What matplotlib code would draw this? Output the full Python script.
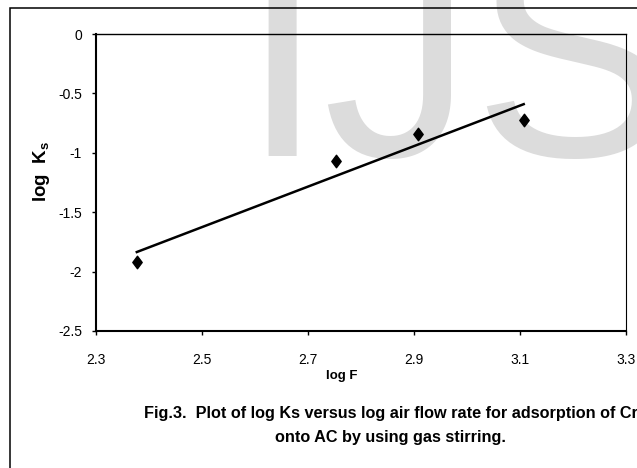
import numpy as np
import matplotlib
matplotlib.use("Agg")
import matplotlib.pyplot as plt
from matplotlib.patches import Rectangle
from matplotlib.path import Path
from matplotlib.ticker import FixedLocator, FuncFormatter

# Measured values: log of air flow rate vs log of mass transfer coefficient
log_F = [2.377, 2.753, 2.908, 3.107]
log_Ks = [-1.92, -1.07, -0.84, -0.72]

x_ticks = [2.3, 2.5, 2.7, 2.9, 3.1, 3.3]
y_ticks = [0, -0.5, -1, -1.5, -2, -2.5]

x_label = "log F"
caption_1 = "Fig.3.  Plot of log Ks versus log air flow rate for adsorption of Cr"
caption_2 = "onto AC by using gas stirring."

FONT = ["Liberation Sans", "DejaVu Sans"]

plt.rcParams["axes.unicode_minus"] = False
plt.rcParams["mathtext.fontset"] = "custom"
plt.rcParams["mathtext.rm"] = "Liberation Sans"
plt.rcParams["mathtext.bf"] = "Liberation Sans:bold"

W, H = 637, 468
fig = plt.figure(figsize=(W / 100, H / 100), dpi=100, facecolor="white")


def fx(px):
    return px / W


def fy(py):
    return 1 - py / H


# Journal watermark behind the chart
fig.text(fx(240), fy(156), "IJS", fontsize=216, family=FONT,
         color="#dcdcdc", ha="left", va="baseline", zorder=-1)

# Outer chart frame (runs off the right and bottom edges)
fig.patches.append(Rectangle((fx(10), -0.3), 2.0, fy(8) + 0.3,
                             transform=fig.transFigure, fill=False,
                             edgecolor="black", linewidth=1.1, zorder=1))

ax = fig.add_axes([fx(96), fy(331), fx(626) - fx(96), fy(34) - fy(331)])
ax.set_facecolor("none")

# Data points
diamond = Path([(-0.75, 0), (0, 1), (0.75, 0), (0, -1), (-0.75, 0)],
               [Path.MOVETO, Path.LINETO, Path.LINETO, Path.LINETO,
                Path.CLOSEPOLY])
ax.plot(log_F, log_Ks, linestyle="none", marker=diamond, markersize=9,
        color="black", zorder=3)

# Linear trend line over the range of the data
slope, intercept = np.polyfit(log_F, log_Ks, 1)
xt = np.array([min(log_F), max(log_F)])
ax.plot(xt, slope * xt + intercept, color="black", linewidth=1.8, zorder=2)

ax.set_xlim(min(x_ticks), max(x_ticks))
ax.set_ylim(min(y_ticks), max(y_ticks))
ax.xaxis.set_major_locator(FixedLocator(x_ticks))
ax.yaxis.set_major_locator(FixedLocator(y_ticks))
fmt = FuncFormatter(lambda v, pos: "%g" % round(v, 2))
ax.xaxis.set_major_formatter(fmt)
ax.yaxis.set_major_formatter(fmt)

for side in ("left", "bottom"):
    ax.spines[side].set_linewidth(1.5)
ax.spines["top"].set_linewidth(1.0)
ax.spines["right"].set_linewidth(0.8)

ax.tick_params(axis="both", direction="out", length=3, width=1.0,
               colors="black", labelsize=10)
ax.tick_params(axis="y", pad=7)
ax.tick_params(axis="x", pad=12.5)
for lab in ax.get_xticklabels() + ax.get_yticklabels():
    lab.set_family(FONT)

# Axis titles
fig.text(fx(41), fy(171), r"log  K$_\mathbf{s}$", fontsize=13.5,
         fontweight="bold", family=FONT, rotation=90,
         ha="center", va="center")
fig.text(fx(342), fy(379), x_label, fontsize=9.5, fontweight="bold",
         family=FONT, ha="center", va="baseline")

# Figure caption
fig.text(fx(144), fy(417.7), caption_1, fontsize=11.7, fontweight="bold",
         family=FONT, ha="left", va="baseline")
fig.text(fx(275), fy(441.7), caption_2, fontsize=11.7, fontweight="bold",
         family=FONT, ha="left", va="baseline")

fig.savefig("out.png", dpi=100, facecolor="white")
